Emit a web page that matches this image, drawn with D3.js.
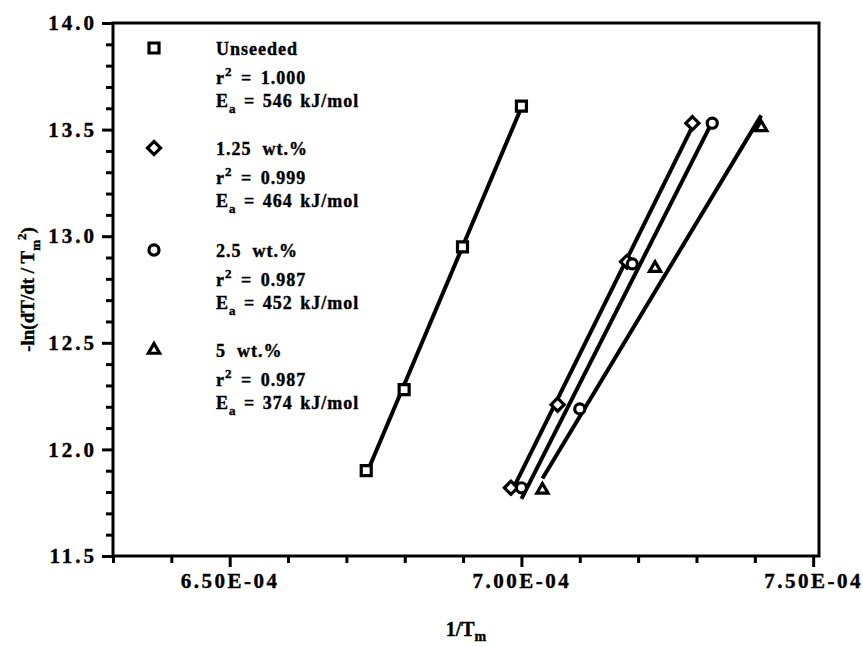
<!DOCTYPE html>
<html>
<head>
<meta charset="utf-8">
<script src="https://cdn.jsdelivr.net/npm/d3@7"></script>
<style>
  body { margin: 0; background: #fff; }
  text { font-family: "Liberation Serif", "Times New Roman", serif; font-weight: bold; fill: #000; stroke: #000; stroke-width: 0.4px; }
</style>
</head>
<body>
<div id="chart"></div>
<script>
// Data (1/Tm, -ln(dT/dt / Tm^2))
var seriesNames = ["Unseeded", "1.25  wt.%", "2.5  wt.%", "5  wt.%"];
var seriesSymbols = ["square", "diamond", "circle", "triangle"];
var r2Values = ["1.000", "0.999", "0.987", "0.987"];
var eaValues = ["546", "464", "452", "374"];

var unseededX = [6.734e-4, 6.799e-4, 6.899e-4, 7.000e-4];
var unseededY = [11.90, 12.28, 12.95, 13.61];
var wt125X = [6.982e-4, 7.062e-4, 7.181e-4, 7.293e-4];
var wt125Y = [11.82, 12.21, 12.88, 13.53];
var wt25X = [7.000e-4, 7.100e-4, 7.190e-4, 7.327e-4];
var wt25Y = [11.82, 12.19, 12.87, 13.53];
var wt5X = [7.036e-4, 7.229e-4, 7.411e-4];
var wt5Y = [11.81, 12.85, 13.51];

var xMajorTicks = [6.5e-4, 7.0e-4, 7.5e-4];
var xMinorTicks = [6.3e-4, 6.4e-4, 6.6e-4, 6.7e-4, 6.8e-4, 6.9e-4, 7.1e-4, 7.2e-4, 7.3e-4, 7.4e-4];
var yMajorTicks = [11.5, 12.0, 12.5, 13.0, 13.5, 14.0];
var yMinorTicks = [11.6, 11.7, 11.8, 11.9, 12.1, 12.2, 12.3, 12.4, 12.6, 12.7, 12.8, 12.9,
                   13.1, 13.2, 13.3, 13.4, 13.6, 13.7, 13.8, 13.9];

var seriesX = [unseededX, wt125X, wt25X, wt5X];
var seriesY = [unseededY, wt125Y, wt25Y, wt5Y];

var svgWidth = 863, svgHeight = 647;
var margin = { top: 23, left: 113, right: 44, bottom: 91 };
var width = svgWidth - margin.left - margin.right;
var height = svgHeight - margin.top - margin.bottom;

var svg = d3.select("#chart").append("svg")
    .attr("width", svgWidth)
    .attr("height", svgHeight);

var chartGroup = svg.append("g")
    .attr("transform", `translate(${margin.left}, ${margin.top})`);

var xLinearScale = d3.scaleLinear().domain([6.30e-4, 7.51e-4]).range([0, width]);
var yLinearScale = d3.scaleLinear().domain([11.5, 14.0]).range([height, 0]);

// 6.50E-04 style labels
function sciFormat(d) {
    var parts = d.toExponential(2).toUpperCase().split("E");
    var exp = +parts[1];
    var sign = exp < 0 ? "-" : "+";
    var digits = String(Math.abs(exp)).padStart(2, "0");
    return parts[0] + "E" + sign + digits;
}

// minor ticks first, then major ticks with labels
var xMinor = chartGroup.append("g")
    .attr("transform", `translate(0, ${height})`)
    .call(d3.axisBottom(xLinearScale).tickValues(xMinorTicks).tickSize(7).tickFormat(""));
var xMajor = chartGroup.append("g")
    .attr("transform", `translate(0, ${height})`)
    .call(d3.axisBottom(xLinearScale).tickValues(xMajorTicks).tickSize(11).tickPadding(6).tickFormat(sciFormat));
var yMinor = chartGroup.append("g")
    .call(d3.axisLeft(yLinearScale).tickValues(yMinorTicks).tickSize(7).tickFormat(""));
var yMajor = chartGroup.append("g")
    .call(d3.axisLeft(yLinearScale).tickValues(yMajorTicks).tickSize(11).tickPadding(5).tickFormat(d3.format(".1f")));

chartGroup.selectAll(".domain").remove();
chartGroup.selectAll(".tick line").attr("stroke", "#000").attr("stroke-width", 3);
xMajor.selectAll("text")
    .style("font-size", "21px")
    .style("letter-spacing", "2.5px")
    .style("font-family", "Liberation Serif")
    .style("font-weight", "bold");
yMajor.selectAll("text")
    .style("font-size", "21px")
    .style("letter-spacing", "3px")
    .style("font-family", "Liberation Serif")
    .style("font-weight", "bold");

// frame
chartGroup.append("rect")
    .attr("x", 0).attr("y", 0)
    .attr("width", width).attr("height", height)
    .attr("fill", "none")
    .attr("stroke", "#000")
    .attr("stroke-width", 3);

// least squares fit lines
function fitLine(xs, ys) {
    var mx = d3.mean(xs), my = d3.mean(ys);
    var sxy = d3.sum(xs, (x, i) => (x - mx) * (ys[i] - my));
    var sxx = d3.sum(xs, x => (x - mx) * (x - mx));
    var slope = sxy / sxx;
    var x0 = d3.min(xs), x1 = d3.max(xs);
    return [[x0, my + slope * (x0 - mx)], [x1, my + slope * (x1 - mx)]];
}

var line = d3.line()
    .x(d => xLinearScale(d[0]))
    .y(d => yLinearScale(d[1]));

var linesGroup = chartGroup.append("g");
seriesX.forEach((xs, i) => {
    linesGroup.append("path")
        .attr("d", line(fitLine(xs, seriesY[i])))
        .attr("fill", "none")
        .attr("stroke", "#000")
        .attr("stroke-width", 4);
});

var symbolPaths = {
    square: d3.symbol().type(d3.symbolSquare).size(100),
    diamond: d3.symbol().type(d3.symbolDiamond2).size(110),
    circle: d3.symbol().type(d3.symbolCircle).size(80),
    triangle: d3.symbol().type(d3.symbolTriangle2).size(90)
};

function drawMarker(g, kind, x, y) {
    g.append("path")
        .attr("d", symbolPaths[kind]())
        .attr("transform", `translate(${x}, ${y})`)
        .attr("fill", "#fff")
        .attr("stroke", "#000")
        .attr("stroke-width", 3.2);
}

var pointsGroup = chartGroup.append("g");
seriesX.forEach((xs, i) => {
    xs.forEach((x, j) => {
        drawMarker(pointsGroup, seriesSymbols[i], xLinearScale(x), yLinearScale(seriesY[i][j]));
    });
});

// legend
var legend = svg.append("g");
var legendTop = [48, 148, 250, 350];
seriesNames.forEach((name, i) => {
    var y0 = legendTop[i];
    drawMarker(legend, seriesSymbols[i], 154, y0);
    legend.append("text")
        .attr("x", 216).attr("y", y0 + 7)
        .style("font-size", "18px")
        .style("letter-spacing", "1px")
        .style("white-space", "pre")
        .text(name);
    var r2 = legend.append("text")
        .attr("x", 216).attr("y", y0 + 36)
        .style("font-size", "18px")
        .style("letter-spacing", "1px")
        .style("word-spacing", "3px")
        .style("white-space", "pre");
    r2.append("tspan").text("r");
    r2.append("tspan").attr("dy", -8).style("font-size", "13px").text("2");
    r2.append("tspan").attr("dy", 8).text(" = " + r2Values[i]);
    var ea = legend.append("text")
        .attr("x", 216).attr("y", y0 + 59)
        .style("font-size", "18px")
        .style("letter-spacing", "1px")
        .style("word-spacing", "2px")
        .style("white-space", "pre");
    ea.append("tspan").text("E");
    ea.append("tspan").attr("dy", 6).style("font-size", "13px").text("a");
    ea.append("tspan").attr("dy", -6).text(" = " + eaValues[i] + " kJ/mol");
});

// axis titles
var xTitle = svg.append("text")
    .attr("x", margin.left + width / 2)
    .attr("y", 636)
    .attr("text-anchor", "middle")
    .style("font-size", "20px");
xTitle.append("tspan").text("1/T");
xTitle.append("tspan").attr("dy", 5).style("font-size", "14px").text("m");

var yTitle = svg.append("text")
    .attr("transform", `translate(34, ${margin.top + height / 2}) rotate(-90)`)
    .attr("text-anchor", "middle")
    .style("font-size", "19px")
    .style("white-space", "pre");
yTitle.append("tspan").text("-ln(dT/dt / T");
yTitle.append("tspan").attr("dy", 6).style("font-size", "13px").text("m");
yTitle.append("tspan").attr("dy", -14).style("font-size", "13px").text("2");
yTitle.append("tspan").attr("dy", 8).text(")");
</script>
</body>
</html>
